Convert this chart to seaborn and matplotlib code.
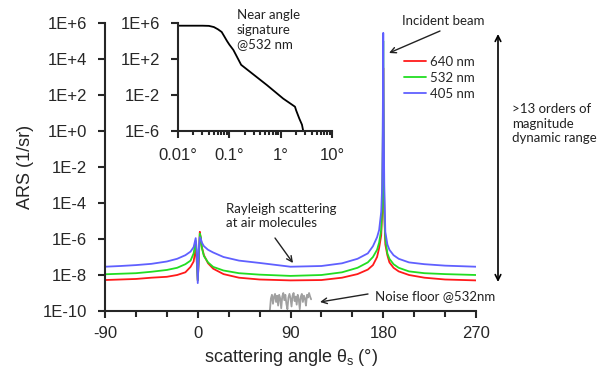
import numpy as np
import pandas as pd
import seaborn as sns
import matplotlib.pyplot as plt
from matplotlib.ticker import FixedLocator, FuncFormatter, MultipleLocator, LogLocator, NullFormatter

# angular scattering, main panel (log10 of ARS)
theta = [-90, -75, -60, -45, -30, -20, -12, -7, -4, -2, -1, 0, 1, 2, 3, 4, 6, 10, 15, 25,
         40, 60, 90, 120, 140, 155, 165, 170, 174, 176, 178, 179, 179.5, 180, 180.5, 181,
         182, 184, 186, 190, 195, 205, 220, 240, 270]
log_640 = [-8.28, -8.25, -8.22, -8.15, -8.1, -8.0, -7.85, -7.55, -7.25, -6.5, -7.2, -8.3,
           -7.2, -5.6, -6.0, -6.45, -6.9, -7.35, -7.65, -7.95, -8.15, -8.25, -8.3, -8.28,
           -8.15, -7.95, -7.7, -7.45, -7.0, -6.5, -5.8, -4.5, -2.0, 3.5, -2.0, -4.5, -6.3,
           -6.9, -7.3, -7.6, -7.8, -8.0, -8.15, -8.25, -8.3]
log_532 = [-7.96, -7.93, -7.9, -7.82, -7.72, -7.6, -7.4, -7.2, -6.8, -6.1, -7.0, -8.3,
           -7.0, -5.7, -5.9, -6.5, -6.95, -7.3, -7.55, -7.75, -7.9, -7.98, -8.05, -8.0,
           -7.85, -7.6, -7.3, -7.0, -6.6, -6.2, -5.5, -4.0, -1.0, 5.0, -1.0, -4.5, -6.0,
           -6.8, -7.1, -7.4, -7.6, -7.8, -7.9, -7.95, -8.0]
log_405 = [-7.54, -7.5, -7.45, -7.38, -7.25, -7.1, -6.9, -6.7, -6.45, -5.95, -6.6, -8.45,
           -6.6, -5.9, -6.0, -6.2, -6.4, -6.6, -6.75, -7.0, -7.2, -7.33, -7.54, -7.5,
           -7.35, -7.1, -6.8, -6.4, -5.9, -5.5, -4.5, -3.0, 0.0, 5.45, 0.0, -3.0, -5.6,
           -6.3, -6.6, -6.9, -7.1, -7.3, -7.4, -7.48, -7.54]

# noise floor @532 nm
noise_theta = [70, 71, 72, 73, 74, 75, 76, 77, 78, 79, 80, 81, 82, 83, 84, 85, 86, 87, 88, 89,
               90, 91, 92, 93, 94, 95, 96, 97, 98, 99, 100, 101, 102, 103, 104, 105, 106, 107,
               108, 109, 110]
noise_log = [-9.95, -9.3, -9.1, -9.6, -9.2, -9.05, -9.5, -9.15, -9.7, -9.1, -9.3, -9.85, -9.2,
             -9.0, -9.4, -9.1, -9.6, -9.9, -9.25, -9.05, -9.3, -9.75, -9.15, -9.0, -9.45,
             -9.2, -9.65, -9.1, -9.35, -9.9, -9.2, -9.05, -9.5, -9.15, -9.3, -9.7, -9.1,
             -9.25, -9.0, -9.2, -9.35]

# near angle signature (inset)
inset_theta = [0.01, 0.02, 0.03, 0.04, 0.05, 0.06, 0.071, 0.08, 0.09, 0.1, 0.12, 0.17, 0.25,
               0.54, 1.12, 1.9, 2.0, 2.3, 2.6, 2.75]
inset_log = [5.7, 5.7, 5.7, 5.68, 5.55, 5.3, 5.0, 4.5, 4.0, 3.6, 3.0, 1.35, 0.6, -0.9, -2.4,
             -3.3, -3.7, -4.6, -5.3, -6.0]

wavelengths = ['640 nm', '532 nm', '405 nm']
colors = {'640 nm': '#ff1a1a', '532 nm': '#22dd22', '405 nm': '#6060ff'}

W, H = 606, 372


def px(x, y):
    # pixel position (from top-left) -> figure fraction
    return x / W, 1 - y / H


sns.set_style('ticks')
plt.rcParams['font.family'] = ['Liberation Sans', 'DejaVu Sans']
plt.rcParams['axes.unicode_minus'] = False
plt.rcParams['mathtext.fontset'] = 'custom'
plt.rcParams['mathtext.rm'] = 'Liberation Sans'
plt.rcParams['mathtext.it'] = 'Liberation Sans'

fig = plt.figure(figsize=(W / 100, H / 100), dpi=100)
ax = fig.add_axes([105 / W, 1 - 311 / H, (476 - 105) / W, (311 - 23) / H])

frames = []
for wl, vals in zip(wavelengths, [log_640, log_532, log_405]):
    frames.append(pd.DataFrame({'theta': theta, 'ars': [10.0 ** v for v in vals], 'wl': wl}))
df = pd.concat(frames, ignore_index=True)

sns.lineplot(data=df, x='theta', y='ars', hue='wl', hue_order=wavelengths, palette=colors,
             estimator=None, linewidth=1.3, ax=ax)
sns.lineplot(x=noise_theta, y=[10.0 ** v for v in noise_log], color='#a0a0a0',
             linewidth=1.3, ax=ax)

ax.set_yscale('log')
ax.set_xlim(-90, 270)
ax.set_ylim(1e-10, 1e6)
ax.xaxis.set_major_locator(FixedLocator([-90, 0, 90, 180, 270]))
ax.xaxis.set_minor_locator(MultipleLocator(30))
ax.yaxis.set_major_locator(FixedLocator([10.0 ** k for k in range(-10, 7, 2)]))
ax.yaxis.set_minor_locator(FixedLocator([]))
ax.yaxis.set_major_formatter(FuncFormatter(lambda v, p: '1E%+d' % round(np.log10(v))))
ax.tick_params(which='both', direction='out', width=1.5, labelsize=12)
ax.tick_params(which='major', length=5)
ax.tick_params(axis='y', pad=8)
ax.tick_params(axis='x', pad=6)
ax.tick_params(which='minor', length=4)
sns.despine(ax=ax)
for s in ['left', 'bottom']:
    ax.spines[s].set_linewidth(1.5)
ax.set_xlabel(r'scattering angle $\theta_{\mathrm{s}}$ (°)', fontsize=13, labelpad=4)
ax.set_ylabel('ARS (1/sr)', fontsize=13, labelpad=6)

handles, labels = ax.get_legend_handles_labels()
ax.legend(handles[:3], labels[:3], loc='upper left', bbox_to_anchor=px(404, 56),
          bbox_transform=fig.transFigure, frameon=False, borderpad=0, borderaxespad=0,
          handlelength=1.7, handletextpad=0.3, labelspacing=0.3,
          prop={'family': 'Lato', 'size': 9.5})

# inset
axin = fig.add_axes([178 / W, 1 - 131 / H, (332 - 178) / W, (131 - 23) / H])
sns.lineplot(x=inset_theta, y=[10.0 ** v for v in inset_log], color='black',
             linewidth=1.3, ax=axin)
axin.set_xscale('log')
axin.set_yscale('log')
axin.set_xlim(0.01, 10)
axin.set_ylim(1e-6, 1e6)
axin.xaxis.set_major_locator(FixedLocator([0.01, 0.1, 1, 10]))
axin.xaxis.set_minor_locator(LogLocator(base=10, subs=np.arange(2, 10)))
axin.xaxis.set_minor_formatter(NullFormatter())
axin.xaxis.set_major_formatter(FuncFormatter(lambda v, p: '%g°' % v))
axin.yaxis.set_major_locator(FixedLocator([1e-6, 1e-2, 1e2, 1e6]))
axin.yaxis.set_minor_locator(FixedLocator([]))
axin.yaxis.set_major_formatter(FuncFormatter(lambda v, p: '1E%+d' % round(np.log10(v))))
axin.tick_params(which='both', direction='out', width=1.5, labelsize=12)
axin.tick_params(which='major', length=5)
axin.tick_params(which='minor', length=3)
axin.tick_params(axis='y', pad=8)
axin.tick_params(axis='x', pad=7)
axin.set_xlabel('')
axin.set_ylabel('')
axin.patch.set_alpha(0)
sns.despine(ax=axin)
for s in ['left', 'bottom']:
    axin.spines[s].set_linewidth(1.5)

# annotations
note = dict(family='Lato', size=9.5, color='#222222')
arrow = dict(arrowstyle='->', color='#222222', lw=1, shrinkA=0, shrinkB=0)

fig.text(*px(443, 21), 'Incident beam', ha='center', va='center', **note)
ax.annotate('', xy=px(389, 53), xytext=px(440, 31), xycoords='figure fraction',
            textcoords='figure fraction', arrowprops=arrow, annotation_clip=False)
fig.text(*px(237, 9), 'Near angle\nsignature\n@532 nm', ha='left', va='top',
         linespacing=1.25, **note)
fig.text(*px(226, 203), 'Rayleigh scattering\nat air molecules', ha='left', va='top',
         linespacing=1.25, **note)
ax.annotate('', xy=px(293, 263), xytext=px(275, 238), xycoords='figure fraction',
            textcoords='figure fraction', arrowprops=arrow, annotation_clip=False)
fig.text(*px(375, 296), 'Noise floor @532nm', ha='left', va='center', **note)
ax.annotate('', xy=px(320, 302), xytext=px(368, 294), xycoords='figure fraction',
            textcoords='figure fraction', arrowprops=arrow, annotation_clip=False)
ax.annotate('', xy=px(498, 34), xytext=px(498, 282), xycoords='figure fraction',
            textcoords='figure fraction', annotation_clip=False,
            arrowprops=dict(arrowstyle='<->', color='black', lw=1.2, shrinkA=0, shrinkB=0))
fig.text(*px(512, 103), '>13 orders of\nmagnitude\ndynamic range', ha='left', va='top',
         linespacing=1.25, **note)

fig.savefig('out.png', dpi=100)
